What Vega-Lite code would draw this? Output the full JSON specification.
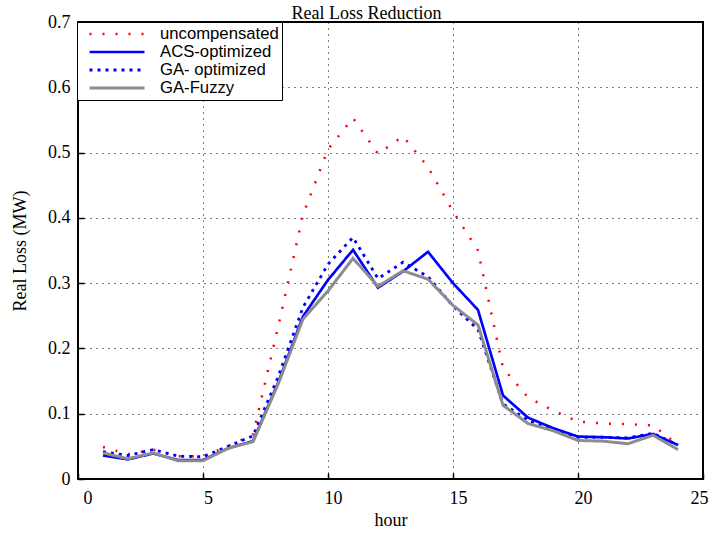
{
  "$schema": "https://vega.github.io/schema/vega-lite/v6.json",
  "autosize": {"type": "none"},
  "width": 625,
  "height": 457,
  "padding": {"left": 78, "top": 22, "right": 14, "bottom": 57},
  "background": "white",
  "title": {
    "text": "Real Loss Reduction",
    "font": "Liberation Serif",
    "fontSize": 18,
    "fontWeight": "normal",
    "color": "black",
    "anchor": "middle",
    "dx": -24,
    "offset": -10
  },
  "data": {
    "values": [
      {"hour": 1, "series": "uncompensated", "loss": 0.049},
      {"hour": 2, "series": "uncompensated", "loss": 0.038},
      {"hour": 3, "series": "uncompensated", "loss": 0.045},
      {"hour": 4, "series": "uncompensated", "loss": 0.035},
      {"hour": 5, "series": "uncompensated", "loss": 0.035},
      {"hour": 6, "series": "uncompensated", "loss": 0.05},
      {"hour": 7, "series": "uncompensated", "loss": 0.068},
      {"hour": 8, "series": "uncompensated", "loss": 0.232},
      {"hour": 9, "series": "uncompensated", "loss": 0.405},
      {"hour": 10, "series": "uncompensated", "loss": 0.505},
      {"hour": 11, "series": "uncompensated", "loss": 0.553},
      {"hour": 12, "series": "uncompensated", "loss": 0.498},
      {"hour": 13, "series": "uncompensated", "loss": 0.525},
      {"hour": 14, "series": "uncompensated", "loss": 0.478},
      {"hour": 15, "series": "uncompensated", "loss": 0.41},
      {"hour": 16, "series": "uncompensated", "loss": 0.35},
      {"hour": 17, "series": "uncompensated", "loss": 0.17},
      {"hour": 18, "series": "uncompensated", "loss": 0.125},
      {"hour": 19, "series": "uncompensated", "loss": 0.105},
      {"hour": 20, "series": "uncompensated", "loss": 0.088},
      {"hour": 21, "series": "uncompensated", "loss": 0.085},
      {"hour": 22, "series": "uncompensated", "loss": 0.084},
      {"hour": 23, "series": "uncompensated", "loss": 0.082},
      {"hour": 24, "series": "uncompensated", "loss": 0.052},
      {"hour": 1, "series": "ACS-optimized", "loss": 0.036},
      {"hour": 2, "series": "ACS-optimized", "loss": 0.030},
      {"hour": 3, "series": "ACS-optimized", "loss": 0.039},
      {"hour": 4, "series": "ACS-optimized", "loss": 0.029},
      {"hour": 5, "series": "ACS-optimized", "loss": 0.029},
      {"hour": 6, "series": "ACS-optimized", "loss": 0.047},
      {"hour": 7, "series": "ACS-optimized", "loss": 0.058},
      {"hour": 8, "series": "ACS-optimized", "loss": 0.147},
      {"hour": 9, "series": "ACS-optimized", "loss": 0.249},
      {"hour": 10, "series": "ACS-optimized", "loss": 0.305},
      {"hour": 11, "series": "ACS-optimized", "loss": 0.351},
      {"hour": 12, "series": "ACS-optimized", "loss": 0.293},
      {"hour": 13, "series": "ACS-optimized", "loss": 0.318},
      {"hour": 14, "series": "ACS-optimized", "loss": 0.348},
      {"hour": 15, "series": "ACS-optimized", "loss": 0.300},
      {"hour": 16, "series": "ACS-optimized", "loss": 0.259},
      {"hour": 17, "series": "ACS-optimized", "loss": 0.128},
      {"hour": 18, "series": "ACS-optimized", "loss": 0.094},
      {"hour": 19, "series": "ACS-optimized", "loss": 0.078},
      {"hour": 20, "series": "ACS-optimized", "loss": 0.065},
      {"hour": 21, "series": "ACS-optimized", "loss": 0.064},
      {"hour": 22, "series": "ACS-optimized", "loss": 0.062},
      {"hour": 23, "series": "ACS-optimized", "loss": 0.069},
      {"hour": 24, "series": "ACS-optimized", "loss": 0.052},
      {"hour": 1, "series": "GA- optimized", "loss": 0.042},
      {"hour": 2, "series": "GA- optimized", "loss": 0.036},
      {"hour": 3, "series": "GA- optimized", "loss": 0.045},
      {"hour": 4, "series": "GA- optimized", "loss": 0.035},
      {"hour": 5, "series": "GA- optimized", "loss": 0.034},
      {"hour": 6, "series": "GA- optimized", "loss": 0.05},
      {"hour": 7, "series": "GA- optimized", "loss": 0.066},
      {"hour": 8, "series": "GA- optimized", "loss": 0.156},
      {"hour": 9, "series": "GA- optimized", "loss": 0.263},
      {"hour": 10, "series": "GA- optimized", "loss": 0.329},
      {"hour": 11, "series": "GA- optimized", "loss": 0.37},
      {"hour": 12, "series": "GA- optimized", "loss": 0.307},
      {"hour": 13, "series": "GA- optimized", "loss": 0.332},
      {"hour": 14, "series": "GA- optimized", "loss": 0.31},
      {"hour": 15, "series": "GA- optimized", "loss": 0.265},
      {"hour": 16, "series": "GA- optimized", "loss": 0.229},
      {"hour": 17, "series": "GA- optimized", "loss": 0.115},
      {"hour": 18, "series": "GA- optimized", "loss": 0.09},
      {"hour": 19, "series": "GA- optimized", "loss": 0.076},
      {"hour": 20, "series": "GA- optimized", "loss": 0.064},
      {"hour": 21, "series": "GA- optimized", "loss": 0.064},
      {"hour": 22, "series": "GA- optimized", "loss": 0.063},
      {"hour": 23, "series": "GA- optimized", "loss": 0.07},
      {"hour": 24, "series": "GA- optimized", "loss": 0.052},
      {"hour": 1, "series": "GA-Fuzzy", "loss": 0.040},
      {"hour": 2, "series": "GA-Fuzzy", "loss": 0.031},
      {"hour": 3, "series": "GA-Fuzzy", "loss": 0.040},
      {"hour": 4, "series": "GA-Fuzzy", "loss": 0.028},
      {"hour": 5, "series": "GA-Fuzzy", "loss": 0.028},
      {"hour": 6, "series": "GA-Fuzzy", "loss": 0.047},
      {"hour": 7, "series": "GA-Fuzzy", "loss": 0.057},
      {"hour": 8, "series": "GA-Fuzzy", "loss": 0.145},
      {"hour": 9, "series": "GA-Fuzzy", "loss": 0.245},
      {"hour": 10, "series": "GA-Fuzzy", "loss": 0.288},
      {"hour": 11, "series": "GA-Fuzzy", "loss": 0.338},
      {"hour": 12, "series": "GA-Fuzzy", "loss": 0.295},
      {"hour": 13, "series": "GA-Fuzzy", "loss": 0.319},
      {"hour": 14, "series": "GA-Fuzzy", "loss": 0.306},
      {"hour": 15, "series": "GA-Fuzzy", "loss": 0.266},
      {"hour": 16, "series": "GA-Fuzzy", "loss": 0.236},
      {"hour": 17, "series": "GA-Fuzzy", "loss": 0.113},
      {"hour": 18, "series": "GA-Fuzzy", "loss": 0.085},
      {"hour": 19, "series": "GA-Fuzzy", "loss": 0.074},
      {"hour": 20, "series": "GA-Fuzzy", "loss": 0.059},
      {"hour": 21, "series": "GA-Fuzzy", "loss": 0.058},
      {"hour": 22, "series": "GA-Fuzzy", "loss": 0.054},
      {"hour": 23, "series": "GA-Fuzzy", "loss": 0.067},
      {"hour": 24, "series": "GA-Fuzzy", "loss": 0.045}
    ]
  },
  "mark": {"type": "line", "clip": true},
  "encoding": {
    "x": {
      "field": "hour",
      "type": "quantitative",
      "scale": {"domain": [0, 25], "nice": false, "zero": false},
      "axis": {
        "title": "hour",
        "values": [0, 5, 10, 15, 20, 25],
        "grid": true,
        "gridColor": "black",
        "gridDash": [1, 5],
        "gridOpacity": 1,
        "gridWidth": 1,
        "domain": false,
        "tickColor": "black",
        "tickSize": -6,
        "tickWidth": 1.5,
        "labelPadding": 16,
        "labelOffset": 5,
        "labelFont": "Liberation Serif",
        "labelFontSize": 18,
        "labelColor": "black",
        "titleFont": "Liberation Serif",
        "titleFontSize": 18,
        "titleFontWeight": "normal",
        "titleColor": "black",
        "titlePadding": 4
      }
    },
    "y": {
      "field": "loss",
      "type": "quantitative",
      "scale": {"domain": [0, 0.7], "nice": false},
      "axis": {
        "title": "Real Loss (MW)",
        "values": [0, 0.1, 0.2, 0.3, 0.4, 0.5, 0.6, 0.7],
        "format": ".1~f",
        "grid": true,
        "gridColor": "black",
        "gridDash": [1, 5],
        "gridOpacity": 1,
        "gridWidth": 1,
        "domain": false,
        "tickColor": "black",
        "tickSize": -6,
        "tickWidth": 1.5,
        "labelPadding": 14,
        "labelFont": "Liberation Serif",
        "labelFontSize": 18,
        "labelColor": "black",
        "titleFont": "Liberation Serif",
        "titleFontSize": 18,
        "titleFontWeight": "normal",
        "titleColor": "black",
        "titlePadding": 18
      }
    },
    "color": {
      "field": "series",
      "type": "nominal",
      "scale": {
        "domain": ["uncompensated", "ACS-optimized", "GA- optimized", "GA-Fuzzy"],
        "range": ["#ff0000", "#0000ff", "#0000ff", "#8c8c8c"]
      },
      "legend": {
        "title": null,
        "orient": "none",
        "legendX": -1,
        "legendY": 0,
        "symbolType": "stroke",
        "symbolSize": 3025,
        "symbolStrokeWidth": 3,
        "symbolOffset": 8,
        "clipHeight": 18,
        "labelFont": "Liberation Sans",
        "labelFontSize": 16.7,
        "labelColor": "black",
        "labelOffset": 14,
        "rowPadding": 0,
        "padding": 3,
        "strokeColor": "black",
        "fillColor": "white"
      }
    },
    "strokeDash": {
      "field": "series",
      "type": "nominal",
      "scale": {
        "domain": ["uncompensated", "ACS-optimized", "GA- optimized", "GA-Fuzzy"],
        "range": [[2, 11], [1, 0], [3, 5], [1, 0]]
      },
      "legend": null
    },
    "strokeWidth": {
      "field": "series",
      "type": "nominal",
      "scale": {
        "domain": ["uncompensated", "ACS-optimized", "GA- optimized", "GA-Fuzzy"],
        "range": [2.5, 3, 3, 3.5]
      },
      "legend": null
    },
    "order": {"field": "hour"}
  },
  "config": {
    "view": {"stroke": "black", "strokeWidth": 2}
  }
}
